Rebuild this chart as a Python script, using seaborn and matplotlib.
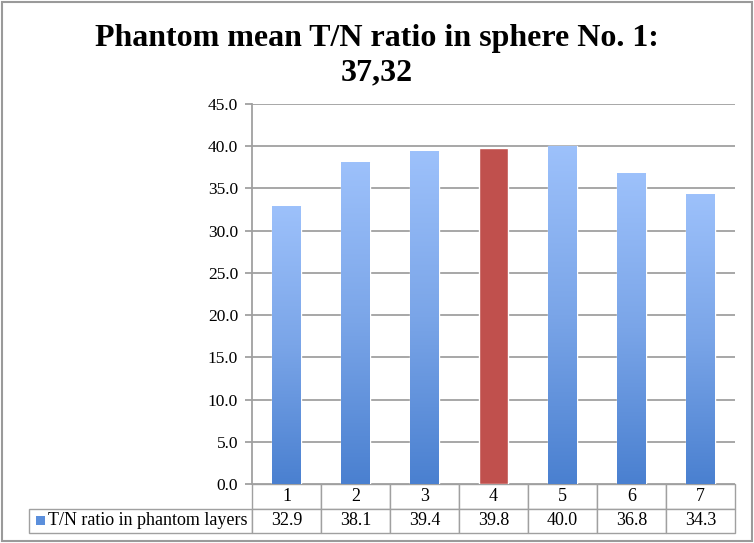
import numpy as np
import pandas as pd
import matplotlib
matplotlib.use("Agg")
import matplotlib.pyplot as plt
import seaborn as sns
from matplotlib.colors import LinearSegmentedColormap
from matplotlib.patches import Rectangle

categories = ["1", "2", "3", "4", "5", "6", "7"]
values = [32.9, 38.1, 39.4, 39.8, 40.0, 36.8, 34.3]
value_labels = ["32.9", "38.1", "39.4", "39.8", "40.0", "36.8", "34.3"]
series_name = "T/N ratio in phantom layers"
title_lines = ["Phantom mean T/N ratio in sphere No. 1:", "37,32"]
yticks = [0, 5, 10, 15, 20, 25, 30, 35, 40, 45]
highlight = "4"

sns.set_theme(style="white")
plt.rcParams["font.family"] = ["Liberation Serif", "DejaVu Serif"]
plt.rcParams["text.color"] = "black"
plt.rcParams["ytick.labelcolor"] = "black"

W, H = 754, 543
fig = plt.figure(figsize=(W / 100, H / 100), dpi=100)
fig.patch.set_facecolor("white")

# figure border
fig.add_artist(Rectangle((2 / W, 2 / H), 1 - 4 / W, 1 - 4 / H, transform=fig.transFigure,
                         fill=False, edgecolor="#9a9a9a", linewidth=1.5))

left, right, bottom, top = 252, 735, 484, 104
ax = fig.add_axes([left / W, 1 - bottom / H, (right - left) / W, (bottom - top) / H])

df = pd.DataFrame({"layer": categories, "value": values})
palette = {c: ("#C0504D" if c == highlight else "#6E9BE0") for c in categories}
sns.barplot(data=df, x="layer", y="value", hue="layer", palette=palette, legend=False,
            width=0.41, ax=ax, saturation=1)

ax.set_ylim(0, 45)
ax.set_xlim(-0.5, len(categories) - 0.5)
ax.set_yticks(yticks)
ax.set_yticklabels([f"{t:.1f}" for t in yticks], fontsize=12.5, color="black")
ax.set_xticks([])
ax.set_xlabel("")
ax.set_ylabel("")
ax.yaxis.grid(True, color="#a0a0a0", linewidth=1.3)
ax.set_axisbelow(True)
for s in ["top", "right", "bottom"]:
    ax.spines[s].set_visible(False)
ax.spines["left"].set_color("#a0a0a0")
ax.spines["left"].set_linewidth(1.3)
ax.tick_params(axis="y", length=5, color="#a0a0a0", width=1.3, left=True, pad=5)

# gradient fill for blue bars
cmap = LinearSegmentedColormap.from_list("grad", ["#4A80D0", "#7AA5E8", "#9DC1FB"])
grad = np.linspace(0, 1, 256).reshape(-1, 1)
for bar, cat in zip(ax.patches, categories):
    if cat == highlight:
        continue
    x0, y0 = bar.get_x(), bar.get_y()
    w, h = bar.get_width(), bar.get_height()
    im = ax.imshow(grad, cmap=cmap, aspect="auto", origin="lower",
                   extent=[x0, x0 + w, y0, y0 + h], zorder=bar.get_zorder() + 0.1)
    im.set_clip_path(bar)
ax.set_xlim(-0.5, len(categories) - 0.5)
ax.set_ylim(0, 45)

# data table
tbl_left, tbl_right, tbl_top, tbl_bottom = 29, 735, 484, 533
col_px = [left - tbl_left] + [(right - left) / len(categories)] * len(categories)
total = tbl_right - tbl_left
cell_text = [[""] + categories, [series_name] + value_labels]
bbox = [(tbl_left - left) / (right - left), -(tbl_bottom - bottom) / (bottom - top),
        total / (right - left), (tbl_bottom - tbl_top) / (bottom - top)]
table = ax.table(cellText=cell_text, colWidths=[c / total for c in col_px],
                 cellLoc="center", bbox=bbox)
table.auto_set_font_size(False)
for (r, c), cell in table.get_celld().items():
    cell.set_edgecolor("#a0a0a0")
    cell.set_linewidth(1.0)
    cell.get_text().set_fontsize(13)
    cell.get_text().set_color("black")
    cell.get_text().set_family(["Liberation Serif", "DejaVu Serif"])
    if r == 0 and c == 0:
        cell.visible_edges = ""
    if r == 1 and c == 0:
        cell.get_text().set_horizontalalignment("left")
        cell.PAD = 19 / (left - tbl_left)
# legend swatch
fig.add_artist(Rectangle((36 / W, 1 - 525 / H), 9 / W, 9 / H, transform=fig.transFigure,
                         facecolor="#5B8FDC", edgecolor="none"))

cx = 0.5 * (97 + 657) / W
fig.text(cx, 1 - 46 / H, title_lines[0], ha="center", va="baseline",
         fontsize=23, fontweight="bold", color="black")
fig.text(cx, 1 - 80 / H, title_lines[1], ha="center", va="baseline",
         fontsize=23, fontweight="bold", color="black")

fig.savefig("out.png", dpi=100)
